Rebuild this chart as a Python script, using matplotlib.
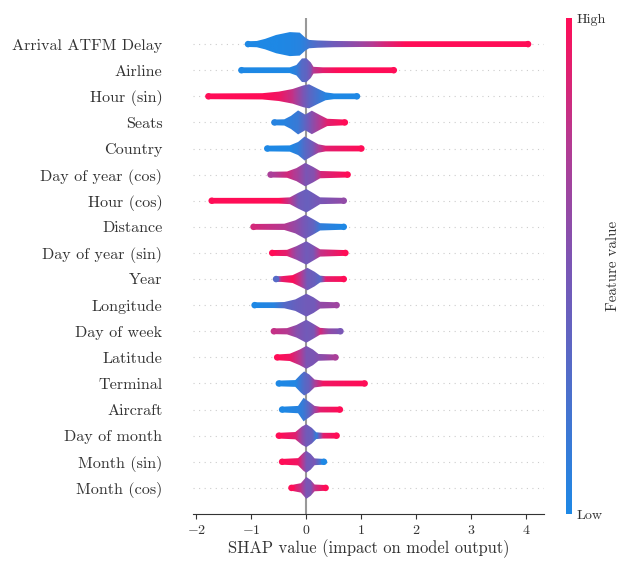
import numpy as np
import matplotlib.pyplot as plt
from matplotlib.colors import LinearSegmentedColormap, Normalize
from matplotlib.cm import ScalarMappable
from matplotlib.patches import Polygon

plt.rcParams['font.family'] = 'serif'
plt.rcParams['font.serif'] = ['cmr10']
plt.rcParams['mathtext.fontset'] = 'cm'
plt.rcParams['axes.formatter.use_mathtext'] = True

# features, most important first
features = ['Arrival ATFM Delay', 'Airline', 'Hour (sin)', 'Seats', 'Country',
            'Day of year (cos)', 'Hour (cos)', 'Distance', 'Day of year (sin)',
            'Year', 'Longitude', 'Day of week', 'Latitude', 'Terminal',
            'Aircraft', 'Day of month', 'Month (sin)', 'Month (cos)']

# violin outline per feature: shap value knots, half width (rows), mean feature value (0 low .. 1 high)
shap_x = [
    [-1.06, -0.9, -0.75, -0.55, -0.3, -0.12, -0.02, 0.05, 0.2, 0.5, 1.0, 1.4, 1.8, 4.03],
    [-1.18, -0.3, -0.18, -0.08, 0.0, 0.08, 0.13, 0.3, 0.6, 1.59],
    [-1.78, -0.8, -0.5, -0.25, -0.05, 0.05, 0.2, 0.35, 0.5, 0.92],
    [-0.58, -0.4, -0.28, -0.15, -0.02, 0.1, 0.25, 0.38, 0.7],
    [-0.71, -0.3, -0.15, -0.03, 0.1, 0.22, 0.35, 1.0],
    [-0.65, -0.35, -0.18, -0.02, 0.12, 0.25, 0.75],
    [-1.72, -0.5, -0.3, -0.15, 0.0, 0.12, 0.25, 0.68],
    [-0.96, -0.4, -0.2, -0.02, 0.12, 0.25, 0.68],
    [-0.62, -0.35, -0.18, 0.0, 0.12, 0.25, 0.71],
    [-0.55, -0.45, -0.25, -0.12, 0.02, 0.15, 0.25, 0.35, 0.68],
    [-0.94, -0.6, -0.4, -0.2, 0.0, 0.13, 0.25, 0.55],
    [-0.59, -0.35, -0.18, 0.0, 0.13, 0.25, 0.4, 0.62],
    [-0.53, -0.3, -0.12, 0.0, 0.12, 0.22, 0.53],
    [-0.5, -0.2, -0.1, -0.04, 0.05, 0.15, 0.3, 1.06],
    [-0.44, -0.15, -0.05, 0.05, 0.15, 0.25, 0.61],
    [-0.5, -0.2, -0.08, 0.0, 0.1, 0.18, 0.3, 0.55],
    [-0.44, -0.15, -0.05, 0.0, 0.08, 0.15, 0.32],
    [-0.27, -0.1, 0.0, 0.08, 0.15, 0.35],
]
half_width = [
    [0.11, 0.12, 0.2, 0.35, 0.46, 0.44, 0.25, 0.16, 0.14, 0.12, 0.11, 0.11, 0.11, 0.11],
    [0.11, 0.11, 0.2, 0.45, 0.46, 0.3, 0.13, 0.11, 0.11, 0.11],
    [0.11, 0.12, 0.18, 0.28, 0.42, 0.46, 0.3, 0.15, 0.11, 0.11],
    [0.11, 0.12, 0.25, 0.46, 0.3, 0.45, 0.28, 0.14, 0.11],
    [0.11, 0.12, 0.25, 0.46, 0.3, 0.16, 0.11, 0.11],
    [0.11, 0.12, 0.25, 0.45, 0.3, 0.14, 0.11],
    [0.11, 0.11, 0.13, 0.3, 0.45, 0.3, 0.13, 0.11],
    [0.11, 0.12, 0.25, 0.46, 0.3, 0.14, 0.11],
    [0.11, 0.12, 0.26, 0.45, 0.3, 0.14, 0.11],
    [0.11, 0.11, 0.15, 0.28, 0.43, 0.28, 0.13, 0.11, 0.11],
    [0.11, 0.11, 0.12, 0.22, 0.44, 0.3, 0.13, 0.11],
    [0.11, 0.12, 0.24, 0.44, 0.28, 0.13, 0.11, 0.11],
    [0.11, 0.14, 0.3, 0.44, 0.3, 0.13, 0.11],
    [0.11, 0.13, 0.35, 0.46, 0.35, 0.15, 0.11, 0.11],
    [0.11, 0.14, 0.45, 0.3, 0.14, 0.11, 0.11],
    [0.11, 0.14, 0.35, 0.44, 0.3, 0.13, 0.11, 0.11],
    [0.11, 0.14, 0.35, 0.42, 0.3, 0.13, 0.11],
    [0.11, 0.18, 0.42, 0.3, 0.13, 0.11],
]
feature_value = [
    [0.0, 0.0, 0.0, 0.0, 0.02, 0.05, 0.12, 0.2, 0.3, 0.45, 0.65, 0.85, 1.0, 1.0],
    [0.0, 0.0, 0.1, 0.3, 0.35, 0.5, 0.75, 0.9, 1.0, 1.0],
    [1.0, 1.0, 0.95, 0.8, 0.5, 0.35, 0.2, 0.05, 0.0, 0.0],
    [0.05, 0.05, 0.1, 0.15, 0.35, 0.55, 0.75, 0.9, 1.0],
    [0.0, 0.0, 0.1, 0.3, 0.45, 0.7, 0.9, 1.0],
    [0.7, 0.85, 0.7, 0.5, 0.55, 0.85, 1.0],
    [1.0, 1.0, 0.75, 0.45, 0.4, 0.45, 0.5, 0.6],
    [0.85, 0.75, 0.6, 0.45, 0.35, 0.1, 0.0],
    [1.0, 0.9, 0.6, 0.45, 0.5, 0.8, 1.0],
    [0.3, 0.9, 1.0, 0.8, 0.45, 0.4, 0.3, 0.9, 1.0],
    [0.0, 0.05, 0.3, 0.4, 0.45, 0.45, 0.6, 0.65],
    [0.8, 0.75, 0.55, 0.45, 0.5, 0.85, 0.6, 0.5],
    [1.0, 0.95, 0.75, 0.5, 0.5, 0.55, 0.7],
    [0.0, 0.02, 0.2, 0.3, 0.4, 0.7, 0.95, 1.0],
    [0.0, 0.05, 0.15, 0.35, 0.65, 0.9, 1.0],
    [1.0, 0.9, 0.6, 0.45, 0.4, 0.1, 0.9, 1.0],
    [1.0, 0.95, 0.7, 0.5, 0.45, 0.5, 0.0],
    [1.0, 0.8, 0.5, 0.5, 0.8, 1.0],
]

red_blue = LinearSegmentedColormap.from_list(
    'red_blue', ['#1E88E5', '#4D6FCB', '#7A56B5', '#B53A92', '#FF0D57'])
axis_color = '#333333'

fig = plt.figure(figsize=(6.28, 5.61), dpi=100)
ax = fig.add_axes([193 / 628, 47 / 561, 351 / 628, 496 / 561])

n = len(features)
for i, name in enumerate(features):
    y = n - 1 - i
    ax.axhline(y, color='#cccccc', lw=0.8, dashes=(1, 4), zorder=-1)
    xs = np.array(shap_x[i])
    hw = np.array(half_width[i])
    cv = np.array(feature_value[i])
    outline = np.concatenate([np.column_stack([xs, y + hw]),
                              np.column_stack([xs[::-1], y - hw[::-1]])])
    patch = Polygon(outline, closed=True, facecolor='none', edgecolor='none')
    ax.add_patch(patch)
    grid = np.linspace(xs[0], xs[-1], 400)
    img = ax.imshow(np.interp(grid, xs, cv)[None, :], cmap=red_blue, vmin=0, vmax=1,
                    aspect='auto', extent=[xs[0], xs[-1], y - 0.5, y + 0.5],
                    interpolation='bilinear', zorder=2)
    img.set_clip_path(patch)
    # rounded tail ends
    ax.scatter([xs[0], xs[-1]], [y, y], c=[cv[0], cv[-1]], cmap=red_blue,
               vmin=0, vmax=1, s=22, lw=0, zorder=3)

ax.axvline(0, color='#999999', lw=1.5, zorder=-1)
ax.set_xlim(-2.06, 4.32)
ax.set_ylim(-1, n)
ax.set_yticks(range(n))
ax.set_yticklabels(features[::-1], fontsize=11.6)
ax.tick_params('y', length=0, pad=22)
ax.tick_params(color=axis_color, labelcolor=axis_color)
ax.tick_params('x', labelsize=10)
for side in ['top', 'right', 'left']:
    ax.spines[side].set_visible(False)
ax.spines['bottom'].set_color(axis_color)
ax.set_xlabel('SHAP value (impact on model output)', fontsize=11.9,
              color=axis_color, labelpad=2)

cax = fig.add_axes([566 / 628, 47 / 561, 6 / 628, 496 / 561])
sm = ScalarMappable(norm=Normalize(0, 1), cmap=red_blue)
cb = fig.colorbar(sm, cax=cax, ticks=[0, 1])
cb.set_ticklabels(['Low', 'High'])
cb.set_label('Feature value', size=10.8, labelpad=0, color=axis_color)
cb.ax.tick_params(labelsize=10.2, length=0, colors=axis_color)
cb.outline.set_visible(False)

fig.savefig('out.png', dpi=100)
